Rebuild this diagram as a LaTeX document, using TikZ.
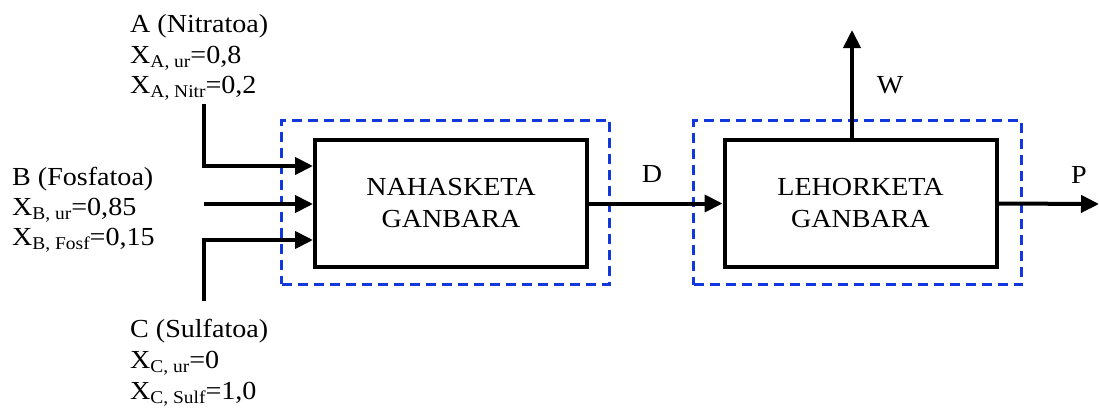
\documentclass[tikz,border=0pt]{standalone}
\usepackage{fontspec}
\setmainfont{Liberation Serif}[FakeStretch=1.08]
\usetikzlibrary{arrows.meta}
\definecolor{cvblue}{RGB}{16,56,220}
% lowered, smaller index after a variable name
\newcommand\idx[1]{\raisebox{-4pt}{\fontsize{18}{18}\selectfont #1}}
\begin{document}
\begin{tikzpicture}[x=1pt,y=-1pt,
  every node/.style={inner sep=0pt,font=\fontsize{26}{32}\selectfont},
  unit/.style={draw,line width=4pt,minimum width=272pt,minimum height=127pt,align=center},
  envelope/.style={draw=cvblue,line width=3pt,dash pattern=on 10pt off 6pt,
                   minimum width=328pt,minimum height=164pt},
  flow/.style={line width=4pt,-{Triangle[length=18pt,width=17pt]}},
  txt/.style={anchor=base west},
  tag/.style={anchor=base}]
\useasboundingbox (0,0) rectangle (1099,407);

% process units
\node[unit] (mix) at (451,203.5) {NAHASKETA\\GANBARA};
\node[unit] (sep) at (860.5,203.5) {LEHORKETA\\GANBARA};

% control volumes
\node[envelope] (mixcv) at (445.5,202) {};
\node[envelope] (sepcv) at (857.5,202.5) {};

% feed stream A
\node[txt] (a1) at (130,32) {A (Nitratoa)};
\node[txt] (a2) at (130,63) {X\idx{A, ur}=0,8};
\node[txt] (a3) at (130,93) {X\idx{A, Nitr}=0,2};

% feed stream B
\node[txt] (b1) at (12,185) {B (Fosfatoa)};
\node[txt] (b2) at (12,215) {X\idx{B, ur}=0,85};
\node[txt] (b3) at (12,245) {X\idx{B, Fosf}=0,15};

% feed stream C
\node[txt] (c1) at (130,337) {C (Sulfatoa)};
\node[txt] (c2) at (130,368) {X\idx{C, ur}=0};
\node[txt] (c3) at (130,399) {X\idx{C, Sulf}=1,0};

% inlet connectors
\coordinate (aIn) at (204,104);
\coordinate (aTurn) at (204,166);
\coordinate (bIn) at (204,204);
\coordinate (cIn) at (204,301);
\coordinate (cTurn) at (204,240);
\draw[flow] (aIn) -- (aTurn) -- (aTurn -| mix.west);
\draw[flow] (bIn) -- (bIn -| mix.west);
\draw[flow] (cIn) -- (cTurn) -- (cTurn -| mix.west);

% intermediate and outlet streams
\coordinate (wOut) at (852,30);
\coordinate (pOut) at (1099,204);
\draw[flow] (mix.east) -- (sep.west);
\draw[flow] (sep.north -| wOut) -- (wOut);
\draw[flow] (sep.east) -- (pOut);

\node[tag] (d) at (652,182) {D};
\node[tag] (w) at (890,93) {W};
\node[tag] (p) at (1079,183) {P};
\end{tikzpicture}
\end{document}
